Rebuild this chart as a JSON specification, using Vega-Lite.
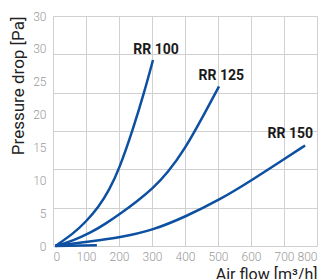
{
  "$schema": "https://vega.github.io/schema/vega-lite/v6.json",
  "width": 264,
  "height": 230,
  "autosize": "none",
  "padding": {"left": 53, "top": 16, "right": 11, "bottom": 33},
  "background": "white",
  "config": {
    "view": {"stroke": null},
    "font": "Roboto",
    "axis": {"labelColor": "#9a9a9a", "labelFontSize": 12, "labelFontWeight": 300, "labelOverlap": false, "gridColor": "#d0d0d0", "domain": false, "ticks": false}
  },
  "datasets": {
    "curves": [
      {"series": "RR 100", "airflow": 7, "pressure": 0},
      {"series": "RR 100", "airflow": 62, "pressure": 1.9},
      {"series": "RR 100", "airflow": 100, "pressure": 3.7},
      {"series": "RR 100", "airflow": 138, "pressure": 5.9},
      {"series": "RR 100", "airflow": 170, "pressure": 8.5},
      {"series": "RR 100", "airflow": 200, "pressure": 11.6},
      {"series": "RR 100", "airflow": 244, "pressure": 18.0},
      {"series": "RR 100", "airflow": 276, "pressure": 23.3},
      {"series": "RR 100", "airflow": 303, "pressure": 28.3},
      {"series": "RR 125", "airflow": 7, "pressure": 0},
      {"series": "RR 125", "airflow": 60, "pressure": 0.8},
      {"series": "RR 125", "airflow": 113, "pressure": 2.0},
      {"series": "RR 125", "airflow": 160, "pressure": 3.4},
      {"series": "RR 125", "airflow": 209, "pressure": 5.1},
      {"series": "RR 125", "airflow": 255, "pressure": 6.8},
      {"series": "RR 125", "airflow": 303, "pressure": 8.8},
      {"series": "RR 125", "airflow": 347, "pressure": 11.1},
      {"series": "RR 125", "airflow": 400, "pressure": 14.8},
      {"series": "RR 125", "airflow": 450, "pressure": 19.3},
      {"series": "RR 125", "airflow": 503, "pressure": 24.3},
      {"series": "RR 150", "airflow": 7, "pressure": 0},
      {"series": "RR 150", "airflow": 103, "pressure": 0.65},
      {"series": "RR 150", "airflow": 204, "pressure": 1.3},
      {"series": "RR 150", "airflow": 303, "pressure": 2.4},
      {"series": "RR 150", "airflow": 403, "pressure": 4.5},
      {"series": "RR 150", "airflow": 504, "pressure": 7.0},
      {"series": "RR 150", "airflow": 602, "pressure": 10.0},
      {"series": "RR 150", "airflow": 703, "pressure": 13.3},
      {"series": "RR 150", "airflow": 764, "pressure": 15.3},
      {"series": "stub", "airflow": 7, "pressure": 0},
      {"series": "stub", "airflow": 133, "pressure": 0.12}
    ],
    "labels": [
      {"label": "RR 100", "airflow": 312, "pressure": 29.8},
      {"label": "RR 125", "airflow": 510, "pressure": 25.8},
      {"label": "RR 150", "airflow": 719, "pressure": 17.0}
    ]
  },
  "encoding": {
    "x": {
      "field": "airflow", "type": "quantitative",
      "scale": {"domain": [0, 800]},
      "axis": {
        "values": [0, 100, 200, 300, 400, 500, 600, 700, 800],
        "labelOverlap": false,
        "grid": true, "labelPadding": 5,
        "title": "Air flow [m³/h]", "titleAnchor": "end", "titleAlign": "right",
        "titleFontSize": 16, "titleFontWeight": "normal", "titleColor": "#222222", "titlePadding": 4
      }
    }
  },
  "layer": [
    {
      "data": {"name": "curves"},
      "mark": {"type": "line", "interpolate": "basis", "strokeWidth": 2.5, "color": "#0d50a2"},
      "encoding": {
        "y": {
          "field": "pressure", "type": "quantitative",
          "scale": {"domain": [0, 35]},
          "axis": {
            "values": [0, 5.8333, 11.6667, 17.5, 23.3333, 29.1667, 35],
            "grid": true, "labels": false, "title": null
          }
        },
        "detail": {"field": "series"}
      }
    },
    {
      "data": {"name": "labels"},
      "mark": {"type": "text", "fontWeight": "bold", "fontSize": 14, "color": "#1a1a1a"},
      "encoding": {
        "y": {
          "field": "pressure", "type": "quantitative",
          "axis": {
            "orient": "left",
            "values": [0, 5, 10, 15, 20, 25, 30, 35],
            "grid": false, "labelPadding": 7,
            "labelExpr": "datum.value == 35 ? '30' : datum.label",
            "title": "Pressure drop [Pa]", "titleAnchor": "end",
            "titleFontSize": 17, "titleFontWeight": "normal", "titleColor": "#222222", "titlePadding": 5
          }
        },
        "text": {"field": "label"}
      }
    }
  ],
  "resolve": {"axis": {"y": "independent"}}
}
